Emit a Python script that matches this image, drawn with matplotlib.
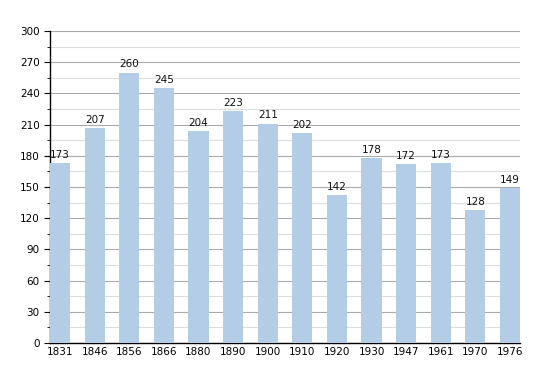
import matplotlib
matplotlib.use("Agg")
import matplotlib.pyplot as plt
import numpy as np

years = ["1831", "1846", "1856", "1866", "1880", "1890", "1900", "1910", "1920", "1930", "1947", "1961", "1970", "1976"]
population = [173, 207, 260, 245, 204, 223, 211, 202, 142, 178, 172, 173, 128, 149]

fig = plt.figure(figsize=(5.5, 3.73), dpi=100)
ax = fig.add_axes([50/550, 1 - 343/373, 470/550, (343 - 31)/373])

x = np.arange(len(years))
bw = 0.58
ax.bar(x, population, width=bw, color="#b3cde6", zorder=3)
for xi, v in zip(x, population):
    ax.text(xi, v + 3, str(v), ha="center", va="bottom", fontsize=7.5, color="#111111", zorder=4)

ax.set_xlim(-bw/2, len(years) - 1 + bw/2)
ax.set_ylim(0, 300)
ax.set_yticks(np.arange(0, 301, 30))
ax.set_yticks(np.arange(15, 300, 30), minor=True)
ax.yaxis.grid(True, which="major", color="#aaaaaa", linewidth=0.8, zorder=0)
ax.yaxis.grid(True, which="minor", color="#dddddd", linewidth=0.8, zorder=0)
ax.set_xticks(x)
ax.set_xticklabels(years)
ax.tick_params(axis="x", length=0, labelsize=7.5, pad=3)
ax.tick_params(axis="y", which="major", length=4, labelsize=7.5, direction="out")
ax.tick_params(axis="y", which="minor", length=2, direction="out")
for s in ["top", "right"]:
    ax.spines[s].set_visible(False)
ax.spines["left"].set_linewidth(1)
ax.spines["bottom"].set_linewidth(1)

fig.savefig("out.png", dpi=100)
